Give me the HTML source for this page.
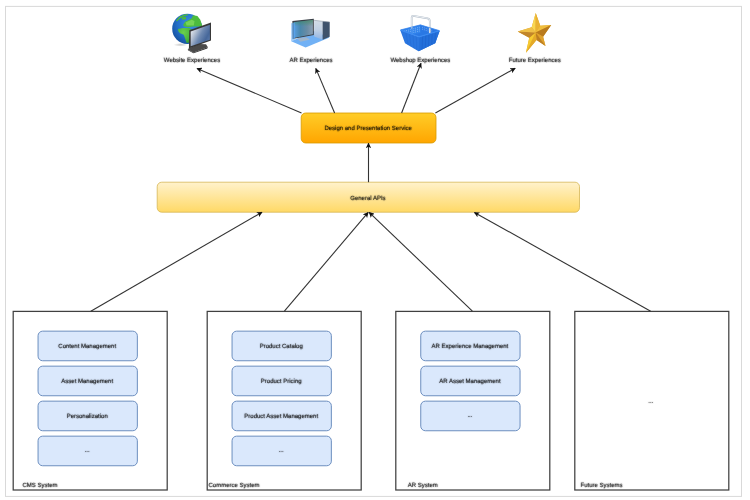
<!DOCTYPE html>
<html><head><meta charset="utf-8">
<style>
html,body{margin:0;padding:0;background:#fff;width:750px;height:500px;overflow:hidden}
svg{display:block;will-change:transform}
text{text-rendering:geometricPrecision;font-family:"Liberation Sans",sans-serif;font-size:6.1px;fill:#000;stroke:#000;stroke-width:0.16px}
</style></head><body>
<svg width="750" height="500" viewBox="0 0 750 500">
<defs>
  <filter id="tblur" x="-5%" y="-50%" width="110%" height="200%"><feConvolveMatrix order="3" kernelMatrix="1 2 1 2 28 2 1 2 1" divisor="40" preserveAlpha="false"/></filter>
  <linearGradient id="gApi" x1="0" y1="0" x2="0" y2="1">
    <stop offset="0" stop-color="#fff2cc"/><stop offset="1" stop-color="#ffd966"/>
  </linearGradient>
  <linearGradient id="gDes" x1="0" y1="0" x2="0" y2="1">
    <stop offset="0" stop-color="#ffcd28"/><stop offset="1" stop-color="#ffa500"/>
  </linearGradient>
  <marker id="arr" viewBox="0 0 10 10" refX="9" refY="5" markerWidth="5.6" markerHeight="5.6" orient="auto" markerUnits="userSpaceOnUse">
    <path d="M0,0 L10,5 L0,10 L2.5,5 Z" fill="#111"/>
  </marker>
</defs>
<rect x="5.5" y="6.4" width="736" height="490" fill="none" stroke="#d9d9d9" stroke-width="1"/>
<g fill="none" stroke="#404040" stroke-width="1.25">
  <rect x="13.2" y="311.4" width="154" height="178.6"/>
  <rect x="207.2" y="311.4" width="154" height="178.6"/>
  <rect x="395.8" y="311.4" width="154" height="178.6"/>
  <rect x="574.8" y="311.4" width="154" height="178.6"/>
</g>
<g fill="#dae8fc" stroke="#6c8ebf" stroke-width="1">
<rect x="38.05" y="331.15" width="99.3" height="29.6" rx="4.6"/>
<rect x="38.05" y="366.15" width="99.3" height="29.6" rx="4.6"/>
<rect x="38.05" y="401.15" width="99.3" height="29.6" rx="4.6"/>
<rect x="38.05" y="436.15" width="99.3" height="29.6" rx="4.6"/>
<rect x="232.05" y="331.15" width="99.3" height="29.6" rx="4.6"/>
<rect x="232.05" y="366.15" width="99.3" height="29.6" rx="4.6"/>
<rect x="232.05" y="401.15" width="99.3" height="29.6" rx="4.6"/>
<rect x="232.05" y="436.15" width="99.3" height="29.6" rx="4.6"/>
<rect x="420.75" y="331.15" width="99.3" height="29.6" rx="4.6"/>
<rect x="420.75" y="366.15" width="99.3" height="29.6" rx="4.6"/>
<rect x="420.75" y="401.15" width="99.3" height="29.6" rx="4.6"/>
</g>
<rect x="157.2" y="182.2" width="422.3" height="30" rx="4.5" fill="url(#gApi)" stroke="#d6b656" stroke-width="0.8"/>
<rect x="301.2" y="113" width="134.8" height="30" rx="4.5" fill="url(#gDes)" stroke="#d79b00" stroke-width="0.8"/>
<g stroke="#333" stroke-width="1.1" fill="none" marker-end="url(#arr)">
  <line x1="301.5" y1="113" x2="197" y2="68.4"/>
  <line x1="334.6" y1="113" x2="315.8" y2="68.4"/>
  <line x1="401.6" y1="113" x2="421" y2="63.2"/>
  <line x1="435.4" y1="113" x2="515.2" y2="68.3"/>
  <line x1="368.5" y1="182.2" x2="368.5" y2="143.2"/>
  <line x1="90.8" y1="311.2" x2="262" y2="212.2"/>
  <line x1="284.4" y1="311.2" x2="368.2" y2="212.4"/>
  <line x1="472.4" y1="311.2" x2="369.2" y2="212.4"/>
  <line x1="650.7" y1="311.2" x2="474.4" y2="212.4"/>
</g>
<defs>
  <radialGradient id="gOcean" cx="0.6" cy="0.35" r="0.7">
    <stop offset="0" stop-color="#3d92e6"/><stop offset="0.6" stop-color="#2470c8"/><stop offset="1" stop-color="#15509e"/>
  </radialGradient>
  <radialGradient id="gLand" cx="0.4" cy="0.3" r="0.8">
    <stop offset="0" stop-color="#6ccf4e"/><stop offset="0.7" stop-color="#45b53c"/><stop offset="1" stop-color="#2f9036"/>
  </radialGradient>
  <linearGradient id="gScreen" x1="0" y1="0.2" x2="1" y2="0.8">
    <stop offset="0" stop-color="#eef0f4"/><stop offset="0.25" stop-color="#b4c0d2"/><stop offset="0.5" stop-color="#6f8ab2"/><stop offset="0.78" stop-color="#46679a"/><stop offset="1" stop-color="#5f7eae"/>
  </linearGradient>
  <radialGradient id="gShadow" cx="0.5" cy="0.5" r="0.5">
    <stop offset="0" stop-color="#000" stop-opacity="0.22"/><stop offset="1" stop-color="#000" stop-opacity="0"/>
  </radialGradient>
  <linearGradient id="gBasket" x1="0" y1="0" x2="0" y2="1">
    <stop offset="0" stop-color="#3f8ef0"/><stop offset="1" stop-color="#1f6ad6"/>
  </linearGradient>
  <linearGradient id="gStar" x1="0" y1="0" x2="0.3" y2="1">
    <stop offset="0" stop-color="#f6cf3c"/><stop offset="0.5" stop-color="#d89a28"/><stop offset="1" stop-color="#f0c032"/>
  </linearGradient>
  <linearGradient id="gARscreenH" x1="0" y1="0" x2="1" y2="0">
    <stop offset="0" stop-color="#5aa0e4"/><stop offset="0.35" stop-color="#4a88ac"/><stop offset="0.7" stop-color="#6a8ca4"/><stop offset="1" stop-color="#8a9eb2"/>
  </linearGradient>
  <linearGradient id="gARscreenV" x1="0" y1="0" x2="0" y2="1">
    <stop offset="0" stop-color="#3f8a5e" stop-opacity="0.7"/><stop offset="0.35" stop-color="#3f8a5e" stop-opacity="0"/>
  </linearGradient>
  <linearGradient id="gTower" x1="0" y1="0" x2="0" y2="1">
    <stop offset="0" stop-color="#d4dce6"/><stop offset="0.5" stop-color="#c0d0e4"/><stop offset="1" stop-color="#90b4e4"/>
  </linearGradient>
  <linearGradient id="gARscreen" x1="0" y1="0" x2="0" y2="1">
    <stop offset="0" stop-color="#4f8a76"/><stop offset="0.3" stop-color="#4c8aae"/><stop offset="1" stop-color="#4080b4"/>
  </linearGradient>
</defs>

<!-- Website: globe + monitor -->
<ellipse cx="180.5" cy="44.8" rx="7" ry="1.8" fill="url(#gShadow)"/>
<g transform="translate(187.3 28.8)">
  <circle r="15.1" fill="url(#gOcean)"/>
  <path fill="#4dbb3e" d="M-4.3,-3.7 L-2.2,-7 L1.4,-8.8 L4.3,-10.6 L5.8,-13.5 L10.1,-12.7 L13,-9.1 L14.8,-3.4 L14.4,-2.3 L6.5,-2.3 L0.7,-1.6 L-2.9,-2.3 Z"/>
  <path fill="#7dd85a" opacity="0.85" d="M-1.8,-6.3 L4.3,-9.1 L7.2,-7.7 L6.5,-3.4 L-0.7,-3.4 Z"/>
  <path fill="#4cb83e" d="M-11.2,-8.4 L-7.9,-12 L-2.9,-14.2 L0.7,-14.5 L0.4,-13.5 L-3.6,-12.4 L-7.2,-10.2 L-10.4,-7.3 Z"/>
  <path fill="#4cb83e" d="M-5.8,-11.3 L-1.4,-12 L-1.1,-9.5 L-5,-9.1 Z"/>
  <path fill="url(#gLand)" d="M-9.4,0.2 L-4.3,-0.9 L2.2,-0.9 L4.3,0.9 L4.3,7.4 L1.4,13.9 L-0.7,14.3 L-2.2,9.6 L-3.6,6 L-7.2,4.5 L-9,2.4 Z"/>
</g>
<path d="M188.9,48.2 L187.8,49.5 L193.5,52.6 L207.9,47.3 L206,44.2 L199,44 Z" fill="#4a4a4a"/>
<path d="M187.8,49.5 L193.5,52.6 L207.9,47.3 L207.3,48.4 L193.5,53.2 L188,50.3 Z" fill="#2a2a2a"/>
<path d="M189.3,30.2 L211,22.6 L211,40.4 L188.9,48.4 Z" fill="#383838"/>
<path d="M190.7,31.6 L209.9,24.8 L209.9,39.7 L190.7,46.3 Z" fill="url(#gScreen)"/>
<!-- AR: monitor + tower -->
<path d="M291.2,41.3 L305.6,47.4 L329.5,37.5 L314,31 Z" fill="#62a9f4" opacity="0.9"/>
<path d="M292.4,21.1 L313.8,18.8 L313.8,35.1 L292.5,39.1 Z" fill="#3a4048"/>
<path d="M293.6,22.3 L312.9,20.0 L312.9,34.3 L293.6,37.9 Z" fill="url(#gARscreenH)"/>
<path d="M293.6,22.3 L312.9,20.0 L312.9,34.3 L293.6,37.9 Z" fill="url(#gARscreenV)"/>
<path d="M291.2,23.2 L295,22.8 L295,39.5 L291.2,41.3 Z" fill="#5aa6f2" opacity="0.6"/>
<path d="M297,38.6 L306,37.2 L310,39.6 L300.5,41.8 Z" fill="#a9b7c6" opacity="0.85"/>
<path d="M314.1,20.3 L322.6,21.3 L322.6,39.8 L314.1,36.6 Z" fill="url(#gTower)"/>
<path d="M322.6,21.3 L329.7,22 L329.7,36.8 L322.6,39.8 Z" fill="#3e526c"/>
<path d="M314.1,20.3 L322.6,21.3 L329.7,22" fill="none" stroke="#8e99a6" stroke-width="0.6"/>
<!-- Webshop: basket -->
<clipPath id="cpInt"><path d="M401.5,30 L420.4,25.5 L438.5,30.8 L419.2,36.2 Z"/></clipPath>
<path d="M400.2,30 L420.4,24.7 L439.7,30.7 L419.2,37 Z" fill="#2a78e4"/>
<path d="M401.5,30 L420.4,25.5 L420.4,33 L406,35 Z" fill="#3284ec"/>
<g fill="#b0d4ff" opacity="0.65" clip-path="url(#cpInt)">
<rect x="404.50" y="30.47" width="0.7" height="1.1"/>
<rect x="406.30" y="30.00" width="0.7" height="1.1"/>
<rect x="408.10" y="29.53" width="0.7" height="1.1"/>
<rect x="409.90" y="29.05" width="0.7" height="1.1"/>
<rect x="411.70" y="28.58" width="0.7" height="1.1"/>
<rect x="413.50" y="28.11" width="0.7" height="1.1"/>
<rect x="415.30" y="27.64" width="0.7" height="1.1"/>
<rect x="417.10" y="27.17" width="0.7" height="1.1"/>
<rect x="418.90" y="26.69" width="0.7" height="1.1"/>
<rect x="404.50" y="32.37" width="0.7" height="1.1"/>
<rect x="406.30" y="31.90" width="0.7" height="1.1"/>
<rect x="408.10" y="31.43" width="0.7" height="1.1"/>
<rect x="409.90" y="30.95" width="0.7" height="1.1"/>
<rect x="411.70" y="30.48" width="0.7" height="1.1"/>
<rect x="413.50" y="30.01" width="0.7" height="1.1"/>
<rect x="415.30" y="29.54" width="0.7" height="1.1"/>
<rect x="417.10" y="29.07" width="0.7" height="1.1"/>
<rect x="418.90" y="28.59" width="0.7" height="1.1"/>
<rect x="404.50" y="34.27" width="0.7" height="1.1"/>
<rect x="406.30" y="33.80" width="0.7" height="1.1"/>
<rect x="408.10" y="33.33" width="0.7" height="1.1"/>
<rect x="409.90" y="32.85" width="0.7" height="1.1"/>
<rect x="411.70" y="32.38" width="0.7" height="1.1"/>
<rect x="413.50" y="31.91" width="0.7" height="1.1"/>
<rect x="415.30" y="31.44" width="0.7" height="1.1"/>
<rect x="417.10" y="30.97" width="0.7" height="1.1"/>
<rect x="418.90" y="30.49" width="0.7" height="1.1"/>
<rect x="422.00" y="26.80" width="0.7" height="1.0"/>
<rect x="423.90" y="27.39" width="0.7" height="1.0"/>
<rect x="425.80" y="27.98" width="0.7" height="1.0"/>
<rect x="427.70" y="28.57" width="0.7" height="1.0"/>
<rect x="429.60" y="29.16" width="0.7" height="1.0"/>
<rect x="431.50" y="29.75" width="0.7" height="1.0"/>
<rect x="422.00" y="28.70" width="0.7" height="1.0"/>
<rect x="423.90" y="29.29" width="0.7" height="1.0"/>
<rect x="425.80" y="29.88" width="0.7" height="1.0"/>
<rect x="427.70" y="30.47" width="0.7" height="1.0"/>
<rect x="429.60" y="31.06" width="0.7" height="1.0"/>
<rect x="431.50" y="31.65" width="0.7" height="1.0"/>
</g>
<path d="M411.7,28.3 L411.7,17.2 Q411.8,15.7 413.4,15.8 L427.6,18.3 Q429.8,18.8 429.8,21 L429.8,33.2" fill="none" stroke="#aab6c4" stroke-width="1.7"/>
<path d="M411.7,28.3 L411.7,17.2 Q411.8,15.7 413.4,15.8 L427.6,18.3 Q429.8,18.8 429.8,21 L429.8,33.2" fill="none" stroke="#f4f6f8" stroke-width="0.9"/>
<path d="M400.2,30 L419.2,37 L439.7,30.7 L435.2,43.2 L418.5,51.2 L405,43.2 Z" fill="#2a76e0"/>
<path d="M419.4,37 L439.7,30.7 L435.2,43.2 L418.7,51.2 Z" fill="#2470da"/>
<g stroke="#1c5ec6" stroke-width="0.55" opacity="0.85">
  <line x1="422.6" y1="36.6" x2="422.1" y2="49.1"/><line x1="425.8" y1="35.6" x2="425.3" y2="47.6"/><line x1="429" y1="34.6" x2="428.5" y2="46.1"/><line x1="432.2" y1="33.6" x2="431.7" y2="44.6"/><line x1="435.4" y1="32.6" x2="434.9" y2="42.9"/>
</g>
<g stroke="#1e62ca" stroke-width="0.5" opacity="0.6">
  <line x1="406" y1="33" x2="408" y2="44.5"/><line x1="409.5" y1="34.3" x2="411" y2="46.5"/><line x1="413" y1="35.5" x2="414" y2="48.5"/><line x1="416.3" y1="36.6" x2="416.8" y2="50"/>
</g>
<path d="M400.6,30.1 L419.2,36.8 L439.3,30.8" fill="none" stroke="#3d8cf2" stroke-width="1.2" stroke-linejoin="round"/>
<path d="M400.6,29.9 L420.4,24.9 L439.3,30.6" fill="none" stroke="#3a88ee" stroke-width="0.8" stroke-linejoin="round"/>

<!-- Future: star -->
<g transform="translate(535.2 32.8) scale(1.04) translate(-535.2 -32.8)">
<path d="M535.7,13.7 L540.1,26.1 L550.6,25.2 L542.8,36.7 L545.1,45.4 L536.5,39.8 L526.3,51.9 L529.5,37.6 L518.4,31.6 L531.8,27.5 Z" fill="#dca232"/>
<path d="M531.8,27.5 L535.7,13.7 L535.6,32.6 Z" fill="#f9d650"/>
<path d="M535.7,13.7 L540.1,26.1 L535.6,32.6 Z" fill="#e9b232"/>
<path d="M540.1,26.1 L550.6,25.2 L535.6,32.6 Z" fill="#f0be3c"/>
<path d="M550.6,25.2 L542.8,36.7 L535.6,32.6 Z" fill="#b97a1c"/>
<path d="M542.8,36.7 L545.1,45.4 L535.6,32.6 Z" fill="#e0a22c"/>
<path d="M545.1,45.4 L536.5,39.8 L535.6,32.6 Z" fill="#bd7f22"/>
<path d="M536.5,39.8 L526.3,51.9 L535.6,32.6 Z" fill="#e4aa28"/>
<path d="M526.3,51.9 L529.5,37.6 L535.6,32.6 Z" fill="#f7cb30"/>
<path d="M529.5,37.6 L518.4,31.6 L535.6,32.6 Z" fill="#c2862a"/>
<path d="M518.4,31.6 L531.8,27.5 L535.6,32.6 Z" fill="#efc048"/>
</g>

<g filter="url(#tblur)">
<text transform="translate(192.00 61.90) scale(0.985 1)" text-anchor="middle">Website Experiences</text>
<text transform="translate(311.00 61.90) scale(0.985 1)" text-anchor="middle">AR Experiences</text>
<text transform="translate(420.40 61.90) scale(0.985 1)" text-anchor="middle">Webshop Experiences</text>
<text transform="translate(534.80 61.90) scale(0.985 1)" text-anchor="middle">Future Experiences</text>
<text transform="translate(368.10 129.70) scale(0.985 1)" text-anchor="middle">Design and Presentation Service</text>
<text transform="translate(367.90 199.50) scale(0.985 1)" text-anchor="middle">General APIs</text>
<text transform="translate(87.20 347.50) scale(0.985 1)" text-anchor="middle">Content Management</text>
<text transform="translate(87.20 382.50) scale(0.985 1)" text-anchor="middle">Asset Management</text>
<text transform="translate(87.20 417.50) scale(0.985 1)" text-anchor="middle">Personalization</text>
<text transform="translate(87.20 451.80) scale(0.985 1)" text-anchor="middle">...</text>
<text transform="translate(281.20 347.50) scale(0.985 1)" text-anchor="middle">Product Catalog</text>
<text transform="translate(281.20 382.50) scale(0.985 1)" text-anchor="middle">Product Pricing</text>
<text transform="translate(281.20 417.50) scale(0.985 1)" text-anchor="middle">Product Asset Management</text>
<text transform="translate(281.20 451.80) scale(0.985 1)" text-anchor="middle">...</text>
<text transform="translate(469.90 347.50) scale(0.985 1)" text-anchor="middle">AR Experience Management</text>
<text transform="translate(469.90 382.50) scale(0.985 1)" text-anchor="middle">AR Asset Management</text>
<text transform="translate(469.90 416.80) scale(0.985 1)" text-anchor="middle">...</text>
<text transform="translate(650.80 402.50) scale(0.985 1)" text-anchor="middle">...</text>
<text transform="translate(22.50 486.50) scale(0.985 1)" text-anchor="start">CMS System</text>
<text transform="translate(208.50 486.50) scale(0.985 1)" text-anchor="start">Commerce System</text>
<text transform="translate(407.70 486.50) scale(0.985 1)" text-anchor="start">AR System</text>
<text transform="translate(580.50 486.50) scale(0.985 1)" text-anchor="start">Future Systems</text>
</g>
</svg>
</body></html>
